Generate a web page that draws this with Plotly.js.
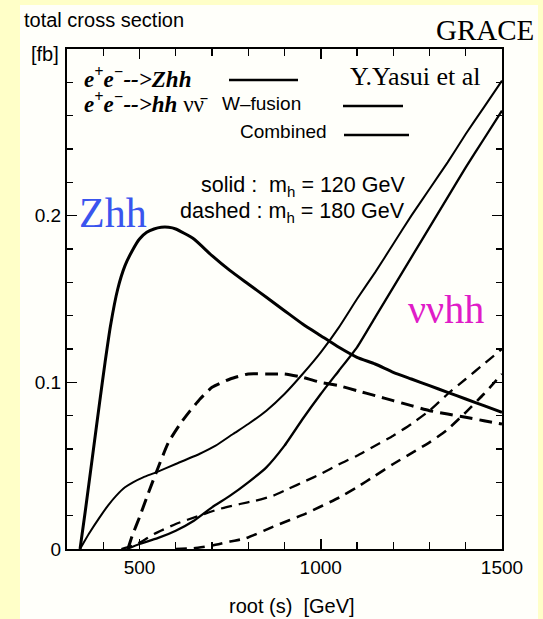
<!DOCTYPE html>
<html>
<head>
<meta charset="utf-8">
<script src="https://cdn.plot.ly/plotly-3.0.1.min.js"></script>
<style>html,body{margin:0;padding:0;background:#ffffc8;}#chart{width:543px;height:619px;}</style>
</head>
<body>
<div id="chart"></div>
<script>
// ---- data (sqrt(s) in GeV, cross section in fb) ----
const zhh120_x = [336, 350, 370, 390, 405, 420, 440, 460, 480, 500, 520, 540, 560, 580, 600, 650, 700, 750, 800, 850, 900, 950, 1000, 1050, 1100, 1150, 1200, 1250, 1300, 1350, 1400, 1450, 1500];
const zhh120_y = [0, 0.022, 0.055, 0.088, 0.112, 0.134, 0.156, 0.170, 0.179, 0.186, 0.190, 0.192, 0.193, 0.193, 0.192, 0.186, 0.176, 0.167, 0.159, 0.151, 0.143, 0.135, 0.128, 0.121, 0.115, 0.111, 0.106, 0.102, 0.098, 0.094, 0.090, 0.086, 0.082];

const zhh180_x = [468, 480, 500, 520, 548, 580, 612, 640, 667, 700, 750, 800, 850, 900, 950, 1000, 1050, 1100, 1150, 1200, 1250, 1300, 1350, 1400, 1450, 1500];
const zhh180_y = [0, 0.008, 0.019, 0.031, 0.047, 0.064, 0.075, 0.083, 0.090, 0.097, 0.102, 0.105, 0.105, 0.105, 0.103, 0.100, 0.098, 0.095, 0.092, 0.089, 0.086, 0.083, 0.081, 0.079, 0.077, 0.075];

const comb120_x = [336, 360, 390, 413, 436, 460, 482, 510, 546, 600, 665, 710, 758, 800, 850, 900, 950, 1000, 1050, 1100, 1150, 1200, 1250, 1300, 1350, 1400, 1450, 1500];
const comb120_y = [0, 0.009, 0.019, 0.026, 0.032, 0.037, 0.040, 0.043, 0.046, 0.051, 0.057, 0.062, 0.069, 0.075, 0.083, 0.093, 0.105, 0.118, 0.133, 0.150, 0.166, 0.183, 0.200, 0.216, 0.232, 0.249, 0.265, 0.281];

const wfus120_x = [465, 500, 550, 600, 650, 700, 750, 800, 850, 900, 950, 1000, 1050, 1100, 1150, 1200, 1250, 1300, 1350, 1400, 1450, 1500];
const wfus120_y = [0, 0.003, 0.0065, 0.011, 0.017, 0.025, 0.032, 0.040, 0.049, 0.062, 0.078, 0.093, 0.107, 0.121, 0.139, 0.157, 0.175, 0.193, 0.211, 0.229, 0.246, 0.263];

const comb180_x = [450, 480, 510, 540, 600, 665, 720, 777, 820, 869, 910, 960, 1000, 1052, 1100, 1150, 1200, 1250, 1300, 1350, 1400, 1450, 1500];
const comb180_y = [0, 0.002, 0.005, 0.009, 0.015, 0.020, 0.024, 0.027, 0.029, 0.032, 0.036, 0.041, 0.045, 0.051, 0.056, 0.062, 0.068, 0.075, 0.083, 0.093, 0.102, 0.111, 0.120];

const wfus180_x = [600, 650, 700, 750, 793, 869, 960, 1052, 1100, 1150, 1200, 1254, 1300, 1346, 1400, 1450, 1500];
const wfus180_y = [0, 0.0005, 0.002, 0.0045, 0.0064, 0.0134, 0.0214, 0.031, 0.037, 0.044, 0.051, 0.058, 0.064, 0.071, 0.082, 0.093, 0.105];

const xTicks = [500, 1000, 1500];
const xTickText = ['500', '1000', '1500'];
const yTicks = [0, 0.1, 0.2];
const yTickText = ['0', '0.1', '0.2'];

// ---- layout helpers (pixel -> paper) ----
const L = 67, T = 49, W = 435, H = 500;
const PX = p => (p - L) / W;
const PY = p => (T + H - p) / H;

function tr(x, y, width, dash) {
  return {x: x, y: y, type: 'scatter', mode: 'lines', showlegend: false, hoverinfo: 'skip',
    line: {color: '#000', width: width, dash: dash, shape: 'spline', smoothing: 0.5}};
}

const data = [
  tr(zhh120_x, zhh120_y, 3, 'solid'),
  tr(zhh180_x, zhh180_y, 3, '13px,7px'),
  tr(comb120_x, comb120_y, 2, 'solid'),
  tr(wfus120_x, wfus120_y, 2.3, 'solid'),
  tr(comb180_x, comb180_y, 2.3, '11px,7px'),
  tr(wfus180_x, wfus180_y, 2.6, '11px,7px')
];

const sans = 'Liberation Sans, Arial, sans-serif';
const serif = 'Liberation Serif, Times New Roman, serif';

function ann(text, px, py, size, family, color, xanchor) {
  return {text: text, xref: 'paper', yref: 'paper', x: PX(px), y: PY(py), showarrow: false,
    xanchor: xanchor || 'left', yanchor: 'middle', font: {size: size, family: family, color: color || '#000'}};
}

const annotations = [
  ann('total cross section', 22, 20, 20, sans),
  ann('[fb]', 29, 54, 20, sans),
  ann('GRACE', 536, 30, 29, serif, '#000', 'right'),
  ann('<b><i>e<sup>+</sup>e<sup>−</sup>-->Zhh</i></b>', 82, 77, 23, serif),
  ann('<b><i>e<sup>+</sup>e<sup>−</sup>-->hh</i></b> νν̄', 82, 102, 23, serif),
  ann('Y.Yasui et al', 483, 76, 26, serif, '#000', 'right'),
  ann('W–fusion', 220, 103, 19, sans),
  ann('Combined', 238, 131, 19, sans),
  ann('solid :  m<sub>h</sub> = 120 GeV', 407, 186, 21.5, sans, '#000', 'right'),
  ann('dashed : m<sub>h</sub> = 180 GeV', 407, 213, 21.5, sans, '#000', 'right'),
  ann('Zhh', 77, 213, 42, serif, '#3a55ee'),
  ann('ννhh', 406, 309, 40, serif, '#e01cc8'),
  ann('root (s)  [GeV]', 292, 606, 20, sans, '#000', 'center')
];

function lineShape(x0, x1, y, w) {
  return {type: 'line', xref: 'paper', yref: 'paper', x0: PX(x0), x1: PX(x1), y0: PY(y), y1: PY(y),
    line: {color: '#000', width: w}};
}

const shapes = [
  {type: 'rect', xref: 'paper', yref: 'paper', x0: PX(20), x1: PX(538), y0: PY(619), y1: PY(5),
   fillcolor: '#fffffa', line: {width: 0}, layer: 'below'},
  lineShape(229, 298, 80, 2.5),
  lineShape(343, 403, 106, 2.5),
  lineShape(344, 409, 135, 2.5)
];

const axisCommon = {
  showline: true, linecolor: '#000', linewidth: 2, mirror: 'ticks',
  ticks: 'inside', ticklen: 10, tickwidth: 1.5, tickcolor: '#000',
  showgrid: false, zeroline: false, fixedrange: true,
  tickfont: {family: sans, size: 19, color: '#000'}
};

const layout = {
  width: 543, height: 619,
  margin: {l: L, r: 543 - L - W, t: T, b: 619 - T - H},
  paper_bgcolor: '#ffffc8', plot_bgcolor: '#ffffff',
  showlegend: false,
  xaxis: Object.assign({}, axisCommon, {
    range: [300, 1500], tickmode: 'array', tickvals: xTicks, ticktext: xTickText,
    minor: {dtick: 100, tick0: 0, ticks: 'inside', ticklen: 7, tickwidth: 1.2, tickcolor: '#000'}
  }),
  yaxis: Object.assign({}, axisCommon, {
    range: [0, 0.3], tickmode: 'array', tickvals: yTicks, ticktext: yTickText,
    minor: {dtick: 0.02, tick0: 0, ticks: 'inside', ticklen: 6, tickwidth: 1.2, tickcolor: '#000'}
  }),
  annotations: annotations,
  shapes: shapes
};

Plotly.newPlot('chart', data, layout, {displayModeBar: false, staticPlot: true});
</script>
</body>
</html>
